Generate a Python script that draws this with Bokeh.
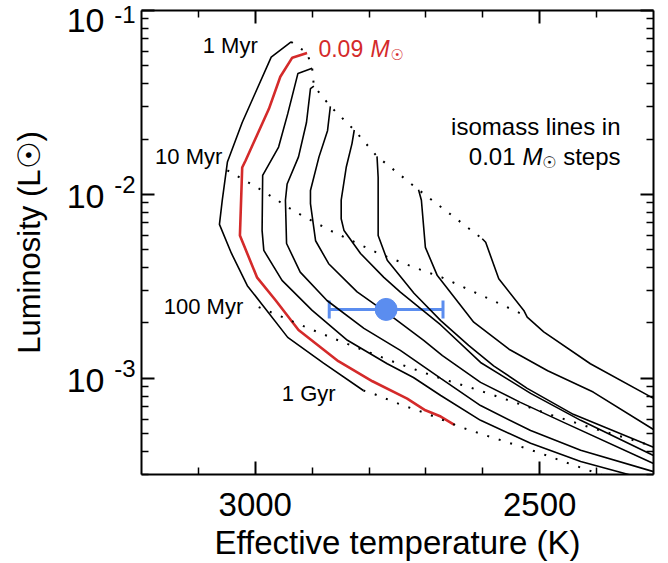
from bokeh.plotting import figure
from bokeh.models import (Range1d, LinearAxis, LogAxis, Label, FixedTicker,
                          Whisker, TeeHead, ColumnDataSource, CustomJSTickFormatter)
from bokeh.embed import file_html
from bokeh.resources import INLINE

# ---------------- data ----------------
# isomass tracks: effective temperature (K) and luminosity (L_sun)
m010_T = [2937, 2972, 3023, 3049, 3058, 3063, 3042, 3014, 2987, 2943, 2880, 2810]
m010_L = [0.0675, 0.0558, 0.0246, 0.0150, 0.00930, 0.00687, 0.00479, 0.00319, 0.00250, 0.00167, 0.00121, 0.000859]

m009_T = [2909, 2935, 2956, 2976, 3017, 3023, 3027, 2997, 2964, 2924, 2854, 2794, 2733, 2701, 2674, 2650]
m009_L = [0.0588, 0.0554, 0.0436, 0.0292, 0.0153, 0.0140, 0.00598, 0.00354, 0.00265, 0.00183, 0.00124, 0.000964, 0.000775, 0.000670, 0.000620, 0.000559]

m008_T = [2900, 2925, 2943, 2959, 2987, 2988, 2985, 2953, 2900, 2838, 2768, 2722, 2674, 2604, 2516, 2428, 2344, 2288]
m008_L = [0.0485, 0.0455, 0.0274, 0.0181, 0.0127, 0.00636, 0.00496, 0.00341, 0.00234, 0.00161, 0.00120, 0.00101, 0.000807, 0.000591, 0.000444, 0.000353, 0.000300, 0.000267]

m007_T = [2897, 2903, 2910, 2924, 2944, 2947, 2945, 2921, 2874, 2809, 2745, 2674, 2604, 2516, 2428, 2300]
m007_L = [0.0388, 0.0376, 0.0246, 0.0160, 0.0114, 0.00930, 0.00541, 0.00378, 0.00265, 0.00187, 0.00142, 0.00100, 0.000711, 0.000520, 0.000406, 0.000311]

m006_T = [2868, 2873, 2888, 2903, 2903, 2894, 2871, 2821, 2762, 2704, 2671, 2604, 2534, 2458, 2300]
m006_L = [0.0301, 0.0222, 0.0160, 0.0105, 0.00892, 0.00560, 0.00420, 0.00295, 0.00219, 0.00161, 0.00133, 0.000951, 0.000740, 0.000576, 0.000344]

m005_T = [2826, 2830, 2840, 2849, 2849, 2844, 2815, 2774, 2745, 2674, 2604, 2516, 2428, 2300]
m005_L = [0.0224, 0.0189, 0.0141, 0.00930, 0.00737, 0.00636, 0.00477, 0.00354, 0.00294, 0.00195, 0.00122, 0.000828, 0.000591, 0.000381]

m004_T = [2786, 2784, 2784, 2768, 2721, 2674, 2625, 2581, 2522, 2441, 2300]
m004_L = [0.0161, 0.0124, 0.00598, 0.00439, 0.00290, 0.00206, 0.00151, 0.00117, 0.000882, 0.000637, 0.000422]

m003_T = [2713, 2708, 2701, 2680, 2616, 2554, 2486, 2406, 2300]
m003_L = [0.0106, 0.00930, 0.00515, 0.00362, 0.00202, 0.00144, 0.00110, 0.000842, 0.000527]

m002_T = [2601, 2595, 2572, 2528, 2522, 2493, 2411, 2300]
m002_L = [0.00574, 0.00549, 0.00348, 0.00234, 0.00215, 0.00179, 0.00120, 0.000778]

# isochrones (dotted)
iso1myr_T = [2937, 2909, 2900, 2897, 2868, 2826, 2786, 2713, 2601]
iso1myr_L = [0.0675, 0.0588, 0.0485, 0.0388, 0.0301, 0.0224, 0.0161, 0.0106, 0.00574]

iso10myr_T = [3049, 2988, 2929, 2868, 2783, 2715, 2672, 2585, 2525]
iso10myr_L = [0.0135, 0.0105, 0.00802, 0.00636, 0.00477, 0.00395, 0.00354, 0.00267, 0.00219]

iso100myr_T = [2994, 2950, 2906, 2863, 2819, 2751, 2683, 2616, 2548, 2481, 2414, 2346, 2300]
iso100myr_L = [0.00244, 0.00214, 0.00187, 0.00165, 0.00146, 0.00121, 0.00102, 0.000879, 0.000748, 0.000634, 0.000544, 0.000472, 0.000426]

iso1gyr_T = [2810, 2789, 2745, 2701, 2636, 2590, 2546, 2499, 2455, 2393, 2358]
iso1gyr_L = [0.000859, 0.000817, 0.000721, 0.000647, 0.000539, 0.000484, 0.000438, 0.000392, 0.00035, 0.0003, 0.000275]

# observed object
obs_T = [2770]
obs_Terr = [100]
obs_L = [0.00237]

# axes
x_major = [3000, 2500]
x_minor = [3100, 2900, 2800, 2700, 2600, 2400]
y_major = [1e-3, 1e-2, 1e-1]
y_minor = [m * 10.0 ** e for e in (-4, -3, -2) for m in range(2, 10) if m * 10.0 ** e >= 3e-4]

# where the "10" and the exponent of each y tick label sit (label layout only)
ylab_base_at = [0.000975, 0.00975, 0.0882]
ylab_exp_at = [0.00113, 0.0113, 0.0951]

BLACK = "black"
RED = "#d42a2a"
BLUE = "#5b8def"
FONT = "Liberation Sans"

p = figure(width=660, height=563, x_range=Range1d(3200, 2300),
           y_range=Range1d(3e-4, 0.1), y_axis_type="log",
           output_backend="svg", toolbar_location=None)
p.min_border = 0
p.min_border_left = 141
p.min_border_right = 7
p.min_border_top = 10
p.min_border_bottom = 89
p.outline_line_color = None
p.xgrid.visible = False
p.ygrid.visible = False
p.background_fill_color = "white"
p.border_fill_color = "white"

xt = FixedTicker(ticks=x_major, minor_ticks=x_minor)
yt = FixedTicker(ticks=y_major, minor_ticks=y_minor)
blank = CustomJSTickFormatter(code="return ''")

bottom_ax = p.below[0]
left_ax = p.left[0]
top_ax = LinearAxis(ticker=xt)
right_ax = LogAxis(ticker=yt)
p.add_layout(top_ax, "above")
p.add_layout(right_ax, "right")
bottom_ax.ticker = xt
left_ax.ticker = yt

for ax in [bottom_ax, left_ax, top_ax, right_ax]:
    ax.axis_line_width = 2
    ax.axis_line_color = BLACK
    ax.major_tick_line_width = 2
    ax.minor_tick_line_width = 1.5
    ax.major_tick_line_color = BLACK
    ax.minor_tick_line_color = BLACK
    ax.major_tick_in = 13
    ax.major_tick_out = 0
    ax.minor_tick_in = 7
    ax.minor_tick_out = 0

for ax in [left_ax, top_ax, right_ax]:
    ax.formatter = blank
    ax.major_label_text_font_size = "1px"
    ax.major_label_standoff = 0

bottom_ax.major_label_text_font = FONT
bottom_ax.major_label_text_font_size = "33px"
bottom_ax.major_label_text_color = BLACK
bottom_ax.major_label_standoff = 18
bottom_ax.axis_label = "Effective temperature (K)"
bottom_ax.axis_label_text_font = FONT
bottom_ax.axis_label_text_font_size = "33px"
bottom_ax.axis_label_text_font_style = "normal"
bottom_ax.axis_label_text_color = BLACK
bottom_ax.axis_label_standoff = 5

# exponent labels (next to the frame), then the "10" labels and the title
exp_ax = LogAxis(ticker=FixedTicker(ticks=ylab_exp_at, minor_ticks=[]),
                 formatter=CustomJSTickFormatter(code="return '-' + Math.round(-Math.log10(tick))"))
base_ax = LogAxis(ticker=FixedTicker(ticks=ylab_base_at, minor_ticks=[]),
                  formatter=CustomJSTickFormatter(code="return '10'"))
for ax in [exp_ax, base_ax]:
    ax.axis_line_color = None
    ax.major_tick_line_color = None
    ax.minor_tick_line_color = None
    ax.major_tick_in = 0
    ax.major_tick_out = 0
    ax.minor_tick_in = 0
    ax.minor_tick_out = 0
    ax.major_label_text_font = FONT
    ax.major_label_text_color = BLACK
exp_ax.major_label_text_font_size = "24px"
exp_ax.major_label_standoff = 6
base_ax.major_label_text_font_size = "34px"
base_ax.major_label_standoff = 7
base_ax.axis_label = "Luminosity (L\u2609)"
base_ax.axis_label_text_font = FONT
base_ax.axis_label_text_font_size = "31px"
base_ax.axis_label_text_font_style = "normal"
base_ax.axis_label_text_color = BLACK
base_ax.axis_label_standoff = 17
p.add_layout(exp_ax, "left")
p.add_layout(base_ax, "left")

# tracks
tracks = [(m010_T, m010_L), (m008_T, m008_L), (m007_T, m007_L), (m006_T, m006_L),
          (m005_T, m005_L), (m004_T, m004_L), (m003_T, m003_L), (m002_T, m002_L)]
for T, L in tracks:
    p.line(T, L, line_color=BLACK, line_width=1.6)
p.line(m009_T, m009_L, line_color=RED, line_width=2.6)

for T, L in [(iso1myr_T, iso1myr_L), (iso10myr_T, iso10myr_L),
             (iso100myr_T, iso100myr_L), (iso1gyr_T, iso1gyr_L)]:
    p.line(T, L, line_color=BLACK, line_width=2, line_dash="2 10")

# observed point with error bar
src = ColumnDataSource(dict(base=obs_L,
                            lower=[t - e for t, e in zip(obs_T, obs_Terr)],
                            upper=[t + e for t, e in zip(obs_T, obs_Terr)]))
p.add_layout(Whisker(source=src, base="base", lower="lower", upper="upper",
                     dimension="width", line_color=BLUE, line_width=3,
                     upper_head=TeeHead(size=18, line_color=BLUE, line_width=3),
                     lower_head=TeeHead(size=18, line_color=BLUE, line_width=3)))
p.scatter(obs_T, obs_L, size=22, fill_color=BLUE, line_color=BLUE)


def lab(x, y, text, size, color=BLACK, style="normal", align="left",
        xo=0, yo=0, font=FONT):
    p.add_layout(Label(x=x, y=y, text=text, text_font=font,
                       text_font_size=f"{size}px", text_color=color,
                       text_font_style=style, text_align=align,
                       text_baseline="middle",
                       x_offset=xo, y_offset=yo))


# age labels
lab(3044, 0.0649, "1 Myr", 22, align="center")
lab(3117, 0.01604, "10 Myr", 22, align="center")
lab(3091, 0.002456, "100 Myr", 22, align="center")
lab(2906, 0.000831, "1 Gyr", 22, align="center")

# 0.09 M_sun (red)
lab(2889, 0.0619, "0.09", 23, color=RED)
lab(2889, 0.0619, "M", 23, color=RED, style="italic", xo=52)
lab(2889, 0.0619, "\u2609", 15, color=RED, xo=72, yo=-6, font="DejaVu Sans")

# isomass note
lab(2358, 0.0233, "isomass lines in", 24, align="right")
lab(2358, 0.0160, "steps", 24, align="right")
lab(2358, 0.0160, "\u2609", 16, align="right", xo=-64, yo=-6, font="DejaVu Sans")
lab(2358, 0.0160, "M", 24, style="italic", align="right", xo=-78)
lab(2358, 0.0160, "0.01", 24, align="right", xo=-105)

open("out.html", "w").write(file_html(p, INLINE))
